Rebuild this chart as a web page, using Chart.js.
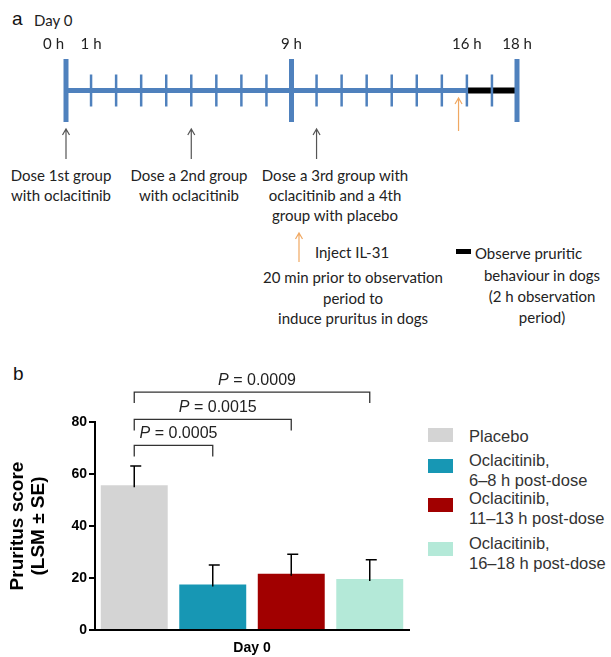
<!DOCTYPE html>
<html>
<head>
<meta charset="utf-8">
<script src="https://cdn.jsdelivr.net/npm/chart.js@4.4.1/dist/chart.umd.min.js"></script>
<style>
  body { margin: 0; width: 611px; height: 657px; overflow: hidden; background: #fff; position: relative; font-family: Lato, "Open Sans", sans-serif; color: #222; }
  canvas { position: absolute; }
  #timeline { left: 0; top: 0; }
  #bars { left: 0; top: 340px; }
  .t { position: absolute; white-space: nowrap; font-size: 15px; line-height: 20px; text-align: center; transform: translateX(-50%); }
  .tl { position: absolute; white-space: nowrap; font-size: 15px; line-height: 20px; }
  .panel { position: absolute; font-family: "Liberation Sans", Arial, sans-serif; font-size: 19px; line-height: 20px; color: #111; }
  #legend { position: absolute; left: 0; top: 0; font-family: "Liberation Sans", Arial, sans-serif; font-size: 16.5px; line-height: 20px; color: #333; }
  .sw { position: absolute; left: 428px; width: 25px; height: 14px; }
  .lt { position: absolute; left: 469px; white-space: nowrap; }
</style>
</head>
<body>
<div class="panel" style="left:12px;top:9px;">a</div>
<div class="tl" style="left:34px;top:10px;">Day 0</div>

<div class="t" style="left:61px;top:165px;">Dose 1st group<br>with oclacitinib</div>
<div class="t" style="left:189px;top:165px;">Dose a 2nd group<br>with oclacitinib</div>
<div class="t" style="left:335px;top:165px;">Dose a 3rd group with<br>oclacitinib and a 4th<br>group with placebo</div>
<div class="t" style="left:352px;top:242px;">Inject IL-31</div>
<div class="t" style="left:353px;top:267px;line-height:20.5px;">20 min prior to observation<br>period to<br>induce pruritus in dogs</div>
<div class="tl" style="left:475px;top:243px;">Observe pruritic</div>
<div class="t" style="left:542px;top:265px;line-height:21px;">behaviour in dogs<br>(2 h observation<br>period)</div>

<div class="panel" style="left:13px;top:364px;">b</div>

<canvas id="timeline" width="611" height="340"></canvas>
<canvas id="bars" width="420" height="317"></canvas>
<div id="legend"></div>

<script>
// panel a: timeline (hours)
const minorHours = [1, 2, 3, 4, 5, 6, 7, 8, 10, 11, 12, 13, 14, 15, 16, 17];
const majorHours = [0, 9, 18];
const labelHours = [0, 1, 9, 16, 18];
const hourLabels = ["0 h", "1 h", "9 h", "16 h", "18 h"];
const doseHours = [0, 5, 10];
const il31Hour = 16 - 20 / 60;
const observeHours = [16, 18];

// panel b: pruritus score
const groups = ["Placebo", "Oclacitinib,\n6–8 h post-dose", "Oclacitinib,\n11–13 h post-dose", "Oclacitinib,\n16–18 h post-dose"];
const lsm = [55.7, 17.5, 21.6, 19.6];
const se = [7.4, 7.5, 7.5, 7.4];
const comparisons = [[0, 1], [0, 2], [0, 3]];
const pValues = ["0.0005", "0.0015", "0.0009"];
const bracketLevels = [71, 81, 91.5];

const blue = "#4f81bd";
const barColors = ["#d4d4d4", "#1797b4", "#a10000", "#b4e9d8"];

function arrow(ctx, x, yTop, yBottom, color) {
  ctx.save();
  ctx.strokeStyle = color;
  ctx.lineWidth = 1.2;
  ctx.beginPath();
  ctx.moveTo(x, yBottom);
  ctx.lineTo(x, yTop);
  ctx.moveTo(x - 3.5, yTop + 6);
  ctx.lineTo(x, yTop);
  ctx.lineTo(x + 3.5, yTop + 6);
  ctx.stroke();
  ctx.restore();
}

const timelineExtras = {
  id: "timelineExtras",
  afterDraw(chart) {
    const ctx = chart.ctx;
    const x = chart.scales.x;
    ctx.save();
    ctx.font = "15px Lato";
    ctx.fillStyle = "#222";
    ctx.textBaseline = "middle";
    labelHours.forEach((h, i) => {
      ctx.textAlign = i === 0 ? "right" : "center";
      const px = x.getPixelForValue(h);
      ctx.fillText(hourLabels[i], i === 0 ? px - 2 : px, 44);
    });
    ctx.restore();
    doseHours.forEach(h => arrow(ctx, x.getPixelForValue(h), 129, 159, "#555"));
    arrow(ctx, x.getPixelForValue(il31Hour), 98, 131, "#f0a862");
    // key marks below the timeline
    arrow(ctx, 299, 233, 262, "#f0a862");
    ctx.fillStyle = "#000";
    ctx.fillRect(456, 249, 15, 5);
  }
};

new Chart("timeline", {
  type: "scatter",
  data: {
    datasets: [
      {
        type: "line",
        data: [{ x: 0, y: 0 }, { x: observeHours[0], y: 0 }],
        borderColor: blue,
        borderWidth: 5,
        pointRadius: 0,
        order: 3,
      },
      {
        type: "line",
        data: [{ x: observeHours[0], y: 0 }, { x: observeHours[1], y: 0 }],
        borderColor: "#000",
        borderWidth: 6,
        pointRadius: 0,
        order: 2,
      },
      {
        data: minorHours.map(h => ({ x: h, y: 0 })),
        pointStyle: "line",
        rotation: 90,
        pointRadius: 16,
        borderColor: blue,
        borderWidth: 2.5,
        order: 1,
      },
      {
        data: majorHours.map(h => ({ x: h, y: 0 })),
        pointStyle: "line",
        rotation: 90,
        pointRadius: 31.5,
        borderColor: blue,
        borderWidth: 5,
        order: 0,
      },
    ],
  },
  options: {
    responsive: false,
    animation: false,
    clip: false,
    layout: { padding: { left: 66, right: 94, top: 59, bottom: 218 } },
    scales: {
      x: { type: "linear", display: false, min: 0, max: 18 },
      y: { display: false, min: -1, max: 1 },
    },
    plugins: { legend: { display: false }, tooltip: { enabled: false } },
  },
  plugins: [timelineExtras],
});

const barExtras = {
  id: "barExtras",
  afterDatasetsDraw(chart) {
    const ctx = chart.ctx;
    const y = chart.scales.y;
    const centre = i => chart.getDatasetMeta(i).data[0].x;
    ctx.save();
    ctx.strokeStyle = "#000";
    ctx.lineWidth = 1.5;
    lsm.forEach((v, i) => {
      const cx = centre(i);
      const top = y.getPixelForValue(v + se[i]);
      ctx.beginPath();
      ctx.moveTo(cx, y.getPixelForValue(v) + 2);
      ctx.lineTo(cx, top);
      ctx.moveTo(cx - 4, top);
      ctx.lineTo(cx + 7, top);
      ctx.stroke();
    });
    ctx.strokeStyle = "#333";
    ctx.lineWidth = 1.3;
    ctx.fillStyle = "#222";
    ctx.textBaseline = "middle";
    comparisons.forEach(([a, b], k) => {
      const x1 = centre(a), x2 = centre(b);
      const yb = y.getPixelForValue(bracketLevels[k]);
      ctx.beginPath();
      ctx.moveTo(x1, yb + 11);
      ctx.lineTo(x1, yb);
      ctx.lineTo(x2, yb);
      ctx.lineTo(x2, yb + 11);
      ctx.stroke();
      const rest = " = " + pValues[k];
      ctx.font = "italic 16px 'Liberation Sans'";
      const wP = ctx.measureText("P").width;
      ctx.font = "16px 'Liberation Sans'";
      const wR = ctx.measureText(rest).width;
      const start = (x1 + x2) / 2 - (wP + wR) / 2 + 5;
      ctx.textAlign = "left";
      ctx.font = "italic 16px 'Liberation Sans'";
      ctx.fillText("P", start, yb - 12);
      ctx.font = "16px 'Liberation Sans'";
      ctx.fillText(rest, start + wP, yb - 12);
    });
    ctx.restore();
  }
};

new Chart("bars", {
  type: "bar",
  data: {
    labels: ["Day 0"],
    datasets: groups.map((g, i) => ({
      label: g,
      data: [lsm[i]],
      backgroundColor: barColors[i],
      categoryPercentage: 1.0,
      barPercentage: 0.853,
    })),
  },
  options: {
    responsive: false,
    animation: false,
    layout: { padding: { top: 82, right: 11, left: 0, bottom: 0 } },
    scales: {
      x: {
        grid: { display: false, drawTicks: false },
        border: { color: "#000", width: 2 },
        ticks: { color: "#000", padding: 10, font: { family: "'Liberation Sans'", size: 14, weight: "bold" } },
        afterFit: s => { s.height = 27; },
      },
      y: {
        min: 0,
        max: 80,
        ticks: { stepSize: 20, color: "#000", padding: 2, font: { family: "'Liberation Sans'", size: 14, weight: "bold" } },
        grid: { drawOnChartArea: false, drawTicks: true, tickLength: 6, color: "#000", lineWidth: 2 },
        border: { color: "#000", width: 2 },
        title: {
          display: true,
          text: ["Pruritus score", "(LSM ± SE)"],
          color: "#000",
          padding: { top: 7, bottom: 0 },
          font: { family: "'Liberation Sans'", size: 19, weight: "bold", lineHeight: 1.1 },
        },
        afterFit: s => { s.width = 95; },
      },
    },
    plugins: { legend: { display: false }, tooltip: { enabled: false } },
  },
  plugins: [barExtras],
});

// legend for panel b
const swatchTops = [428, 459, 498, 542];
const textTops = [426, 450, 488, 533];
const legend = document.getElementById("legend");
groups.forEach((g, i) => {
  const sw = document.createElement("div");
  sw.className = "sw";
  sw.style.top = swatchTops[i] + "px";
  sw.style.background = barColors[i];
  legend.appendChild(sw);
  const lt = document.createElement("div");
  lt.className = "lt";
  lt.style.top = textTops[i] + "px";
  lt.innerHTML = g.replace("\n", "<br>");
  legend.appendChild(lt);
});
</script>
</body>
</html>
